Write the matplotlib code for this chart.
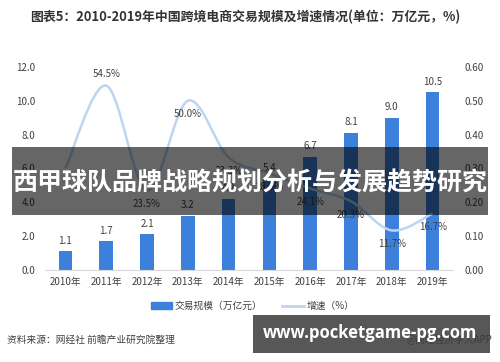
import numpy as np
import matplotlib.pyplot as plt
from matplotlib.path import Path
from matplotlib.patches import PathPatch, Rectangle
from matplotlib.lines import Line2D

plt.rcParams['font.family'] = ['Noto Sans CJK SC', 'DejaVu Sans']

# data
years = ['2010年', '2011年', '2012年', '2013年', '2014年',
         '2015年', '2016年', '2017年', '2018年', '2019年']
scale = [1.1, 1.7, 2.1, 3.2, 4.2, 5.4, 6.7, 8.1, 9.0, 10.5]
growth = [0.30, 0.545, 0.235, 0.500, 0.333, 0.286, 0.241, 0.203, 0.117, 0.167]
growth_labels = ['', '54.5%', '23.5%', '50.0%', '33.3%', '28.6%',
                 '24.1%', '20.3%', '11.7%', '16.7%']

bar_color = '#3c80dc'
line_color = '#bcd6f0'
txt_color = '#404040'

W, H = 500, 362
fig = plt.figure(figsize=(W / 100, H / 100), dpi=100)
ax = fig.add_axes([45 / W, 1 - 270 / H, (453 - 45) / W, (270 - 67) / H])
ax2 = ax.twinx()

x = np.arange(len(years))
ax.bar(x, scale, width=0.33, color=bar_color, zorder=2)
for xi, v in zip(x, scale):
    ax.annotate(f'{v:.1f}', (xi, v), xytext=(0, 4), textcoords='offset points',
                ha='center', va='bottom', fontsize=7, color=txt_color)

ax.set_xlim(-0.5, 9.5)
ax.set_ylim(0, 12)
ax.set_yticks(np.arange(0, 12.1, 2))
ax.set_yticklabels([f'{t:.1f}' for t in np.arange(0, 12.1, 2)])
ax.set_xticks(x)
ax.set_xticklabels(years)
ax2.set_ylim(0, 0.6)
ax2.set_yticks(np.arange(0, 0.61, 0.1))
ax2.set_yticklabels([f'{t:.2f}' for t in np.arange(0, 0.61, 0.1)])

for a in (ax, ax2):
    for s in a.spines.values():
        s.set_visible(False)
    a.tick_params(length=0, labelsize=7, labelcolor=txt_color)
ax.spines['bottom'].set_visible(True)
ax.spines['bottom'].set_color('#d9d9d9')
ax.tick_params(axis='y', pad=7)
ax.tick_params(axis='x', pad=5)
ax2.tick_params(axis='y', pad=8)

# smooth growth line (Catmull-Rom drawn as cubic bezier in data coords)
pts = np.column_stack([x, growth]).astype(float)
verts = [pts[0]]
codes = [Path.MOVETO]
n = len(pts)
for i in range(n - 1):
    p0 = pts[max(i - 1, 0)]
    p1 = pts[i]
    p2 = pts[i + 1]
    p3 = pts[min(i + 2, n - 1)]
    c1 = p1 + (p2 - p0) / 6
    c2 = p2 - (p3 - p1) / 6
    verts += [c1, c2, p2]
    codes += [Path.CURVE4] * 3
ax2.add_patch(PathPatch(Path(verts, codes), facecolor='none',
                        edgecolor=line_color, lw=1.8, zorder=3))

for xi, v, lab in zip(x, growth, growth_labels):
    if not lab:
        continue
    if lab == '54.5%':
        ax2.annotate(lab, (xi, v), xytext=(0, 5), textcoords='offset points',
                     ha='center', va='bottom', fontsize=7, color=txt_color)
    else:
        ax2.annotate(lab, (xi, v), xytext=(0, -6), textcoords='offset points',
                     ha='center', va='top', fontsize=7, color=txt_color)

# legend
handles = [Rectangle((0, 0), 1, 1, color=bar_color),
           Line2D([0], [0], color=line_color, lw=2)]
fig.legend(handles, ['交易规模（万亿元）', '增速（%）'], loc='center',
           bbox_to_anchor=(0.505, 1 - 306 / H), ncol=2, frameon=False,
           fontsize=7, handlelength=2.2, handleheight=0.6, columnspacing=2.0,
           handletextpad=0.3, labelcolor=txt_color)

fig.text(30 / W, 1 - 17 / H, '图表5：2010-2019年中国跨境电商交易规模及增速情况(单位：万亿元，%)',
         fontsize=9.3, fontweight='bold', color='#333333', va='center', ha='left')
fig.text(7 / W, 1 - 340 / H, '资料来源：网经社 前瞻产业研究院整理', fontsize=7,
         color=txt_color, va='center', ha='left')
fig.text(492 / W, 1 - 340 / H, '@前瞻经济学人APP', fontsize=7,
         color=txt_color, va='center', ha='right')

# overlay bands
fig.add_artist(Rectangle((12 / W, 1 - 215 / H), (488 - 12) / W, (215 - 147) / H,
                         transform=fig.transFigure, color='black', alpha=0.6,
                         lw=0, zorder=10))
fig.text(250 / W, 1 - 183 / H, '西甲球队品牌战略规划分析与发展趋势研究', fontsize=18,
         fontweight='bold', color='white', ha='center', va='center', zorder=11)
fig.add_artist(Rectangle((253 / W, 1 - 353 / H), (490 - 253) / W, (353 - 315) / H,
                         transform=fig.transFigure, color='#3a3a3a', alpha=0.85,
                         lw=0, zorder=10))
fig.text(370 / W, 1 - 333 / H, 'www.pocketgame-pg.com', fontsize=12,
         fontweight='bold', color='white', ha='center', va='center', zorder=11,
         family='Open Sans')

fig.savefig('out.png', dpi=100)
